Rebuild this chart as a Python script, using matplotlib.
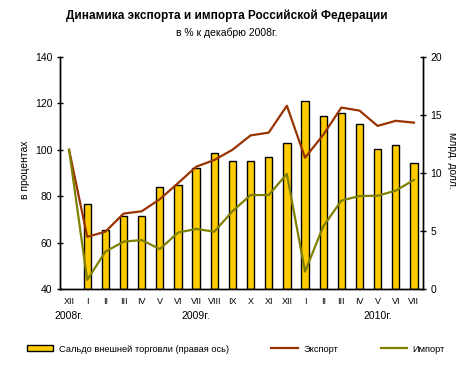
import numpy as np
import matplotlib
matplotlib.use('agg')
import matplotlib.pyplot as plt
from matplotlib.patches import Patch
from matplotlib.lines import Line2D

plt.rcParams['font.family'] = ['Liberation Sans', 'DejaVu Sans']

months = ['XII', 'I', 'II', 'III', 'IV', 'V', 'VI', 'VII', 'VIII', 'IX', 'X', 'XI', 'XII',
          'I', 'II', 'III', 'IV', 'V', 'VI', 'VII']
years = {0: '2008г.', 7: '2009г.', 17: '2010г.'}

# сальдо, млрд. долл. (правая ось)
balance = [np.nan, 7.3, 5.1, 6.3, 6.3, 8.8, 9.0, 10.4, 11.7, 11.0, 11.0, 11.4, 12.6,
           16.2, 14.9, 15.2, 14.2, 12.1, 12.4, 10.9]
# в % к декабрю 2008г.
export = [100, 62.5, 64.7, 72.5, 73.5, 78.7, 85.6, 92.7, 95.6, 100.0, 106.2, 107.4, 119.0,
          96.6, 106.4, 118.2, 116.9, 110.3, 112.5, 111.7]
imports = [100, 43.9, 56.1, 60.4, 61.1, 57.2, 64.3, 65.9, 64.7, 73.5, 80.5, 80.5, 89.6,
           47.5, 66.9, 78.1, 80.1, 80.2, 82.4, 87.0]

W, H = 468, 366
fig = plt.figure(figsize=(W / 100, H / 100), dpi=100)
fig.patch.set_facecolor('white')

ax = fig.add_axes([60 / W, (H - 289) / H, 363 / W, 232 / H])
x = np.arange(len(months))

bar_color = '#FFCC00'
exp_color = '#993300'
imp_color = '#808000'

ax.bar(x, balance, width=0.4, color=bar_color, edgecolor='black', linewidth=1, zorder=2)
ax.set_ylim(0, 20)
ax.set_xlim(-0.5, len(months) - 0.5)
ax.set_yticks([0, 5, 10, 15, 20])

ax2 = ax.twinx()
# twinx moves the host's ticks to the left, so swap them here
ax.yaxis.tick_right()
ax2.yaxis.tick_left()
ax2.plot(x, export, color=exp_color, linewidth=1.6)
ax2.plot(x, imports, color=imp_color, linewidth=1.6)
ax2.set_ylim(40, 140)
ax2.set_yticks(range(40, 141, 20))

for a in (ax, ax2):
    a.spines['top'].set_visible(False)
    a.spines['left'].set_linewidth(1)
    a.spines['right'].set_linewidth(1)
    a.spines['bottom'].set_linewidth(1)
    a.tick_params(axis='y', direction='inout', length=5, width=1, labelsize=7.5, pad=3)
    a.set_facecolor('none')

ax.set_xticks(x)
ax.set_xticklabels(months, fontsize=6.5)
ax.tick_params(axis='x', length=0, pad=6)

for i, yr in years.items():
    ax.text(x[i], -0.117, yr, transform=ax.get_xaxis_transform(), ha='center', va='center',
            fontsize=7.5)

fig.text(25 / W, 1 - 170 / H, 'в процентах', rotation=90, ha='center', va='center', fontsize=7.5)
fig.text(452 / W, 1 - 160 / H, 'млрд. долл.', rotation=-90, ha='center', va='center', fontsize=7.5)

fig.text(227 / W, 1 - 16 / H, 'Динамика экспорта и импорта Российской Федерации',
         ha='center', va='center', fontsize=8.5, fontweight='bold')
fig.text(227 / W, 1 - 33 / H, 'в % к декабрю 2008г.', ha='center', va='center', fontsize=7.5)

handles = [Patch(facecolor=bar_color, edgecolor='black', linewidth=1),
           Line2D([], [], color=exp_color, linewidth=1.6),
           Line2D([], [], color=imp_color, linewidth=1.6)]
labels = ['Сальдо внешней торговли (правая ось)', 'Экспорт', 'Импорт']
fig.legend(handles, labels, loc='center left', bbox_to_anchor=(27 / W, 1 - 349 / H), ncol=3,
           frameon=False, fontsize=6.7, handlelength=2.8, handleheight=0.55,
           handletextpad=0.6, columnspacing=4.6, borderpad=0, borderaxespad=0)

fig.savefig('out.png', dpi=100)
